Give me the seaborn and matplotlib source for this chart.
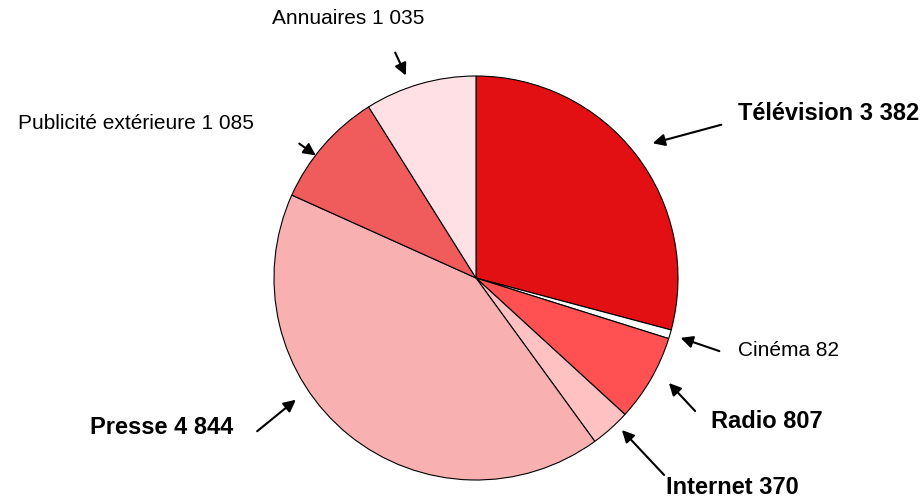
import matplotlib.pyplot as plt
import seaborn as sns

# Advertising spending by media
media = ["Télévision", "Cinéma", "Radio", "Internet", "Presse",
         "Publicité extérieure", "Annuaires"]
values = [3382, 82, 807, 370, 4844, 1085, 1035]
value_labels = ["3 382", "82", "807", "370", "4 844", "1 085", "1 035"]
bold = [True, False, True, True, True, False, False]
colors = ["#E31013", "#FFFFFF", "#FF5152", "#FFC1C1", "#F9B0B1",
          "#F05B5B", "#FFE1E5"]

sns.set_style("white")
plt.rcParams['font.family'] = ['Liberation Sans', 'DejaVu Sans']

fig = plt.figure(figsize=(9.21, 5.01), dpi=100)
ax = fig.add_axes([0, 0, 1, 1])

H = 501
ax.pie(values, colors=colors, startangle=90, counterclock=False,
       center=(476, H - 278), radius=202,
       explode=[0, 0, 0, 0, 0.006, 0, 0],
       wedgeprops=dict(edgecolor='black', linewidth=0.8))
ax.set_xlim(0, 921)
ax.set_ylim(0, 501)
ax.set_aspect('equal')
ax.axis('off')

# label text position (pixels), alignment, arrow start, arrow tip
layout = {
    "Télévision": ((738, 113), 'left', (724, 124), (650, 144)),
    "Cinéma": ((738, 351), 'left', (722, 352), (678, 337)),
    "Radio": ((711, 422), 'left', (697, 413), (667, 381)),
    "Internet": ((666, 488), 'left', (666, 477), (620, 428)),
    "Presse": ((233, 428), 'right', (255, 433), (298, 398)),
    "Publicité extérieure": ((254, 123), 'right', (297, 142), (318, 157)),
    "Annuaires": ((348, 18), 'center', (394, 50), (407, 78)),
}

for name, val, b in zip(media, value_labels, bold):
    (tx, ty), ha, (sx, sy), (ex, ey) = layout[name]
    ax.text(tx, H - ty, f"{name} {val}", ha=ha, va='center',
            fontsize=17 if b else 15,
            fontweight='bold' if b else 'normal', color='black')
    ax.annotate("", xy=(ex, H - ey), xytext=(sx, H - sy),
                arrowprops=dict(arrowstyle='-|>', color='black', lw=1.5,
                                mutation_scale=18))

fig.savefig("out.png", dpi=100)
